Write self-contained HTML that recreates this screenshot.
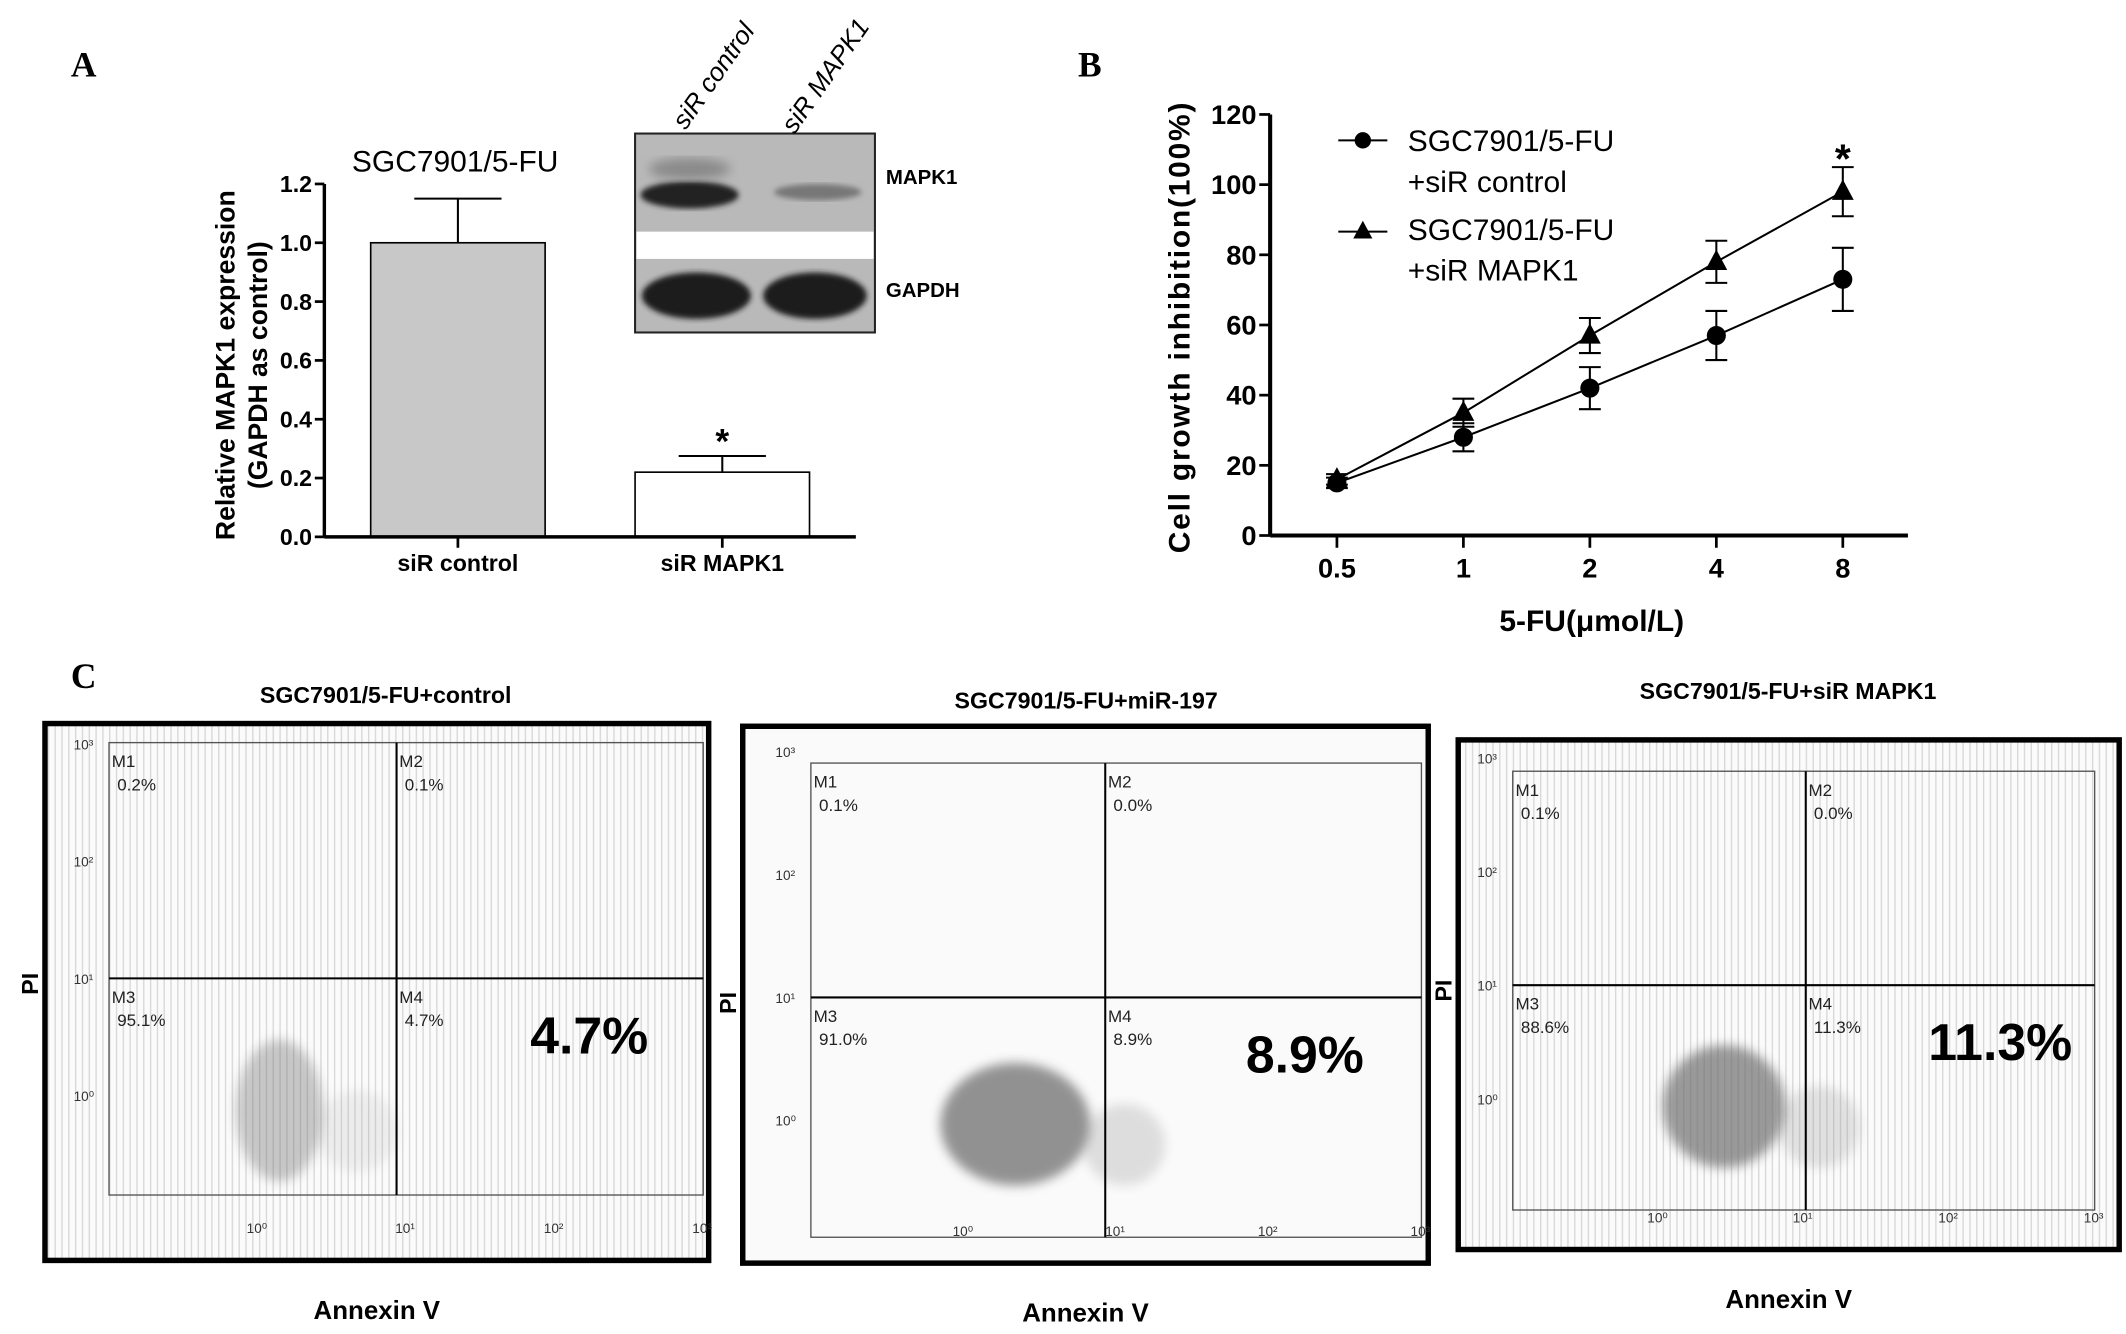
<!DOCTYPE html>
<html><head><meta charset="utf-8">
<style>
html,body{margin:0;padding:0;background:#fff;}
svg{display:block;}
text{font-family:"Liberation Sans",Arial,sans-serif;}
.cond{font-family:"Liberation Sans Narrow","Liberation Sans",sans-serif;font-weight:bold;}
.serif{font-family:"Liberation Serif",serif;font-weight:bold;}
</style></head>
<body>
<svg id="fig" width="2126" height="1334" viewBox="0 0 1560 979" preserveAspectRatio="none" xmlns="http://www.w3.org/2000/svg">
<defs>
<pattern id="stripes" width="5" height="10" patternUnits="userSpaceOnUse">
<rect width="5" height="10" fill="#fbfbfb"/>
<rect width="1" height="10" fill="#d8d8d8"/>
</pattern>
<filter id="blur2"><feGaussianBlur stdDeviation="4"/></filter>
<filter id="blur1"><feGaussianBlur stdDeviation="2"/></filter>
</defs>

<text class="serif" x="52" y="56" font-size="26">A</text>
<text class="serif" x="791" y="56" font-size="26">B</text>
<text class="serif" x="52" y="505" font-size="26">C</text>

<g id="panelA">
<text x="334" y="126" font-size="22" text-anchor="middle">SGC7901/5-FU</text>
<g transform="translate(172,268) rotate(-90)"><text x="0" y="0" font-size="19.5" font-weight="bold" text-anchor="middle">Relative MAPK1 expression</text></g>
<g transform="translate(196,268) rotate(-90)"><text x="0" y="0" font-size="19.5" font-weight="bold" text-anchor="middle">(GAPDH as control)</text></g>
</g>

<g>
<rect x="466" y="98" width="176" height="146" fill="#b9b9b9" stroke="#222" stroke-width="1.5"/>
<rect x="467" y="170" width="174" height="20" fill="#fff"/>
<ellipse cx="506" cy="143" rx="36" ry="10" fill="#222" filter="url(#blur1)"/>
<ellipse cx="506" cy="124" rx="30" ry="8" fill="#8a8a8a" filter="url(#blur2)"/>
<ellipse cx="600" cy="141" rx="32" ry="6" fill="#777" filter="url(#blur1)"/>
<ellipse cx="511" cy="217" rx="40" ry="17" fill="#1a1a1a" filter="url(#blur1)"/>
<ellipse cx="598" cy="217" rx="38" ry="17" fill="#1a1a1a" filter="url(#blur1)"/>
<g transform="translate(503,96) rotate(-55)"><text font-size="19" font-style="italic">siR control</text></g>
<g transform="translate(583,99) rotate(-55)"><text font-size="19" font-style="italic">siR MAPK1</text></g>
<text class="cond" x="650" y="135" font-size="15">MAPK1</text>
<text class="cond" x="650" y="218" font-size="15">GAPDH</text>
</g>

<g transform="translate(873,240) rotate(-90)"><text x="0" y="0" font-size="22" font-weight="bold" text-anchor="middle" letter-spacing="1.3">Cell growth inhibition(100%)</text></g>
<text class="cond" x="1168" y="463" font-size="22" text-anchor="middle">5-FU(μmol/L)</text>
<g>
<g>
<line x1="982" y1="103" x2="1018" y2="103" stroke="#000" stroke-width="1.5"/>
<circle cx="1000" cy="103" r="6" fill="#000"/>
<text x="1033" y="111" font-size="22">SGC7901/5-FU</text>
<text x="1033" y="141" font-size="22">+siR control</text>
</g>
<g>
<line x1="982" y1="170" x2="1018" y2="170" stroke="#000" stroke-width="1.5"/>
<polygon points="1000,162 1007,175 993,175" fill="#000"/>
<text x="1033" y="176" font-size="22">SGC7901/5-FU</text>
<text x="1033" y="206" font-size="22">+siR MAPK1</text>
</g>
</g>

<g id="panelC"></g>
</svg>

<script>
// ---------- Panel A data ----------
const barCategories = ["siR control", "siR MAPK1"];
const barValues = [1.0, 0.22];
const barErrors = [0.15, 0.055];
const barSignif = [false, true];
const barTicks = [0.0, 0.2, 0.4, 0.6, 0.8, 1.0, 1.2];

// ---------- Panel B data ----------
const doseLabels = ["0.5", "1", "2", "4", "8"];
const controlValues = [15, 28, 42, 57, 73];
const controlErrors = [1.5, 4, 6, 7, 9];
const mapk1Values = [16, 35, 57, 78, 98];
const mapk1Errors = [1.5, 4, 5, 6, 7];
const lineTicks = [0, 20, 40, 60, 80, 100, 120];

// ---------- Panel C data ----------
const flowTitles = ["SGC7901/5-FU+control", "SGC7901/5-FU+miR-197", "SGC7901/5-FU+siR MAPK1"];
const flowM1 = ["0.2%", "0.1%", "0.1%"];
const flowM2 = ["0.1%", "0.0%", "0.0%"];
const flowM3 = ["95.1%", "91.0%", "88.6%"];
const flowM4 = ["4.7%", "8.9%", "11.3%"];

const NS = "http://www.w3.org/2000/svg";
const svg = document.getElementById("fig");
function mk(tag, attrs, parent) {
  const e = document.createElementNS(NS, tag);
  for (const k in attrs) e.setAttribute(k, attrs[k]);
  (parent || svg).appendChild(e);
  return e;
}

// ===== Panel A =====
(function () {
  const x0 = 238, xEnd = 628, yBase = 394, yTop = 135;
  const yA = v => yBase - v / 1.2 * (yBase - yTop);
  const centers = [336, 530], bw = 128;
  const g = document.getElementById("panelA");
  barTicks.forEach(t => {
    const y = yA(t);
    const tk = mk("line", {x1: x0 - 7, y1: y, x2: x0, y2: y, stroke: "#000", "stroke-width": 2}, g);
    
    
    const lb = mk("text", {x: x0 - 9, y: y + 6, "font-size": 17, "text-anchor": "end", class: "cond"}, g);
    lb.textContent = t.toFixed(1);
    
    
  });
  barValues.forEach((v, i) => {
    const cx = centers[i];
    const eb = mk("line", {x1: cx, y1: yA(v), x2: cx, y2: yA(v + barErrors[i]), stroke: "#000", "stroke-width": 1.5}, g);
    
    
    const cap = mk("line", {x1: cx - 32, y1: yA(v + barErrors[i]), x2: cx + 32, y2: yA(v + barErrors[i]), stroke: "#000", "stroke-width": 1.5}, g);
    
    
    const r = mk("rect", {x: cx - bw / 2, y: yA(v), width: bw, height: yBase - yA(v), fill: i === 0 ? "#c8c8c8" : "#fff", stroke: "#000", "stroke-width": 1.2}, g);
    
    
    const tk = mk("line", {x1: cx, y1: yBase, x2: cx, y2: yBase + 8, stroke: "#000", "stroke-width": 2}, g);
    
    
    const lb = mk("text", {x: cx, y: yBase + 25, "font-size": 17, "text-anchor": "middle", class: "cond"}, g);
    lb.textContent = barCategories[i];
    
    
    if (barSignif[i]) {
      const s = mk("text", {x: cx, y: yA(v + barErrors[i]) - 2, "font-size": 26, "text-anchor": "middle", "font-weight": "bold"}, g);
      s.textContent = "*";
      
      
    }
  });
  const ax = mk("line", {x1: x0, y1: yTop, x2: x0, y2: yBase, stroke: "#000", "stroke-width": 2.5}, g);
  
  
  const xa = mk("line", {x1: x0, y1: yBase, x2: xEnd, y2: yBase, stroke: "#000", "stroke-width": 2.5}, g);
  
  
})();

// ===== Panel B =====
(function () {
  const x0 = 932, xEnd = 1400, yBase = 393, yTop = 84;
  const yB = v => yBase - v / 120 * (yBase - yTop);
  const xB = i => 981 + i * 92.8;
  lineTicks.forEach(t => {
    const y = yB(t);
    const tk = mk("line", {x1: x0 - 8, y1: y, x2: x0, y2: y, stroke: "#000", "stroke-width": 2});
    
    
    const lb = mk("text", {x: x0 - 10, y: y + 7, "font-size": 20, "text-anchor": "end", class: "cond"});
    lb.textContent = t;
    
    
  });
  doseLabels.forEach((d, i) => {
    const tk = mk("line", {x1: xB(i), y1: yBase, x2: xB(i), y2: yBase + 9, stroke: "#000", "stroke-width": 2});
    
    
    const lb = mk("text", {x: xB(i), y: yBase + 31, "font-size": 20, "text-anchor": "middle", class: "cond"});
    lb.textContent = d;
    
    
  });
  function series(vals, errs, marker, name) {
    const pts = vals.map((v, i) => xB(i) + "," + yB(v)).join(" ");
    const pl = mk("polyline", {points: pts, fill: "none", stroke: "#000", "stroke-width": 1.5});
    
    
    vals.forEach((v, i) => {
      const x = xB(i);
      const eb = mk("path", {d: `M${x},${yB(v - errs[i])}V${yB(v + errs[i])}M${x - 8},${yB(v - errs[i])}H${x + 8}M${x - 8},${yB(v + errs[i])}H${x + 8}`, stroke: "#000", "stroke-width": 1.5, fill: "none"});
      
      
      let m;
      if (marker === "circle") {
        m = mk("circle", {cx: x, cy: yB(v), r: 7, fill: "#000"});
      } else {
        const y = yB(v);
        m = mk("polygon", {points: `${x},${y - 9} ${x + 8},${y + 6} ${x - 8},${y + 6}`, fill: "#000"});
      }
      
      
    });
  }
  series(controlValues, controlErrors, "circle", "control");
  series(mapk1Values, mapk1Errors, "triangle", "mapk1");
  const last = mapk1Values.length - 1;
  const s = mk("text", {x: xB(last), y: yB(mapk1Values[last] + mapk1Errors[last]) + 4, "font-size": 30, "text-anchor": "middle", "font-weight": "bold"});
  s.textContent = "*";
  
  
  const ya = mk("line", {x1: x0, y1: yTop, x2: x0, y2: yBase, stroke: "#000", "stroke-width": 3});
  
  
  const xa = mk("line", {x1: x0, y1: yBase, x2: xEnd, y2: yBase, stroke: "#000", "stroke-width": 3});
  
  
})();

// ===== Panel C =====
(function () {
  const g = document.getElementById("panelC");
  const boxes = [
    {bx: 33, by: 531, bw: 487, bh: 394, ix: 80, iy: 545, iw: 436, ih: 332, qx: 291, qy: 718, cx: 205, cy: 815, rx: 32, ry: 52, op: 0.35, tx: 283, ty: 516},
    {bx: 545, by: 533, bw: 503, bh: 394, ix: 595, iy: 560, iw: 448, ih: 348, qx: 811, qy: 732, cx: 745, cy: 825, rx: 55, ry: 45, op: 0.7, tx: 797, ty: 520},
    {bx: 1070, by: 543, bw: 485, bh: 374, ix: 1110, iy: 566, iw: 427, ih: 322, qx: 1325, qy: 723, cx: 1265, cy: 812, rx: 45, ry: 45, op: 0.65, tx: 1312, ty: 513}
  ];
  boxes.forEach((b, i) => {
    const t = mk("text", {x: b.tx, y: b.ty, "font-size": 17, "text-anchor": "middle", class: "cond"}, g);
    t.textContent = flowTitles[i];
    
    
    const bg = mk("rect", {x: b.bx, y: b.by, width: b.bw, height: b.bh, fill: i === 1 ? "#fafafa" : "url(#stripes)", stroke: "#000", "stroke-width": 4}, g);
    
    
    const inner = mk("rect", {x: b.ix, y: b.iy, width: b.iw, height: b.ih, fill: "none", stroke: "#555", "stroke-width": 1}, g);
    
    
    const cloud = mk("ellipse", {cx: b.cx, cy: b.cy, rx: b.rx, ry: b.ry, fill: "#666", opacity: b.op, filter: "url(#blur2)"}, g);
    
    
    const tail = mk("ellipse", {cx: b.cx + b.rx + 25, cy: b.cy + 15, rx: 30, ry: 30, fill: "#888", opacity: b.op * 0.35, filter: "url(#blur2)"}, g);
    
    
    const v = mk("line", {x1: b.qx, y1: b.iy, x2: b.qx, y2: b.iy + b.ih, stroke: "#000", "stroke-width": 1.5}, g);
    
    
    const h = mk("line", {x1: b.ix, y1: b.qy, x2: b.ix + b.iw, y2: b.qy, stroke: "#000", "stroke-width": 1.5}, g);
    
    
    const q = [["M1", flowM1[i], b.ix + 2, b.iy + 18], ["M2", flowM2[i], b.qx + 2, b.iy + 18], ["M3", flowM3[i], b.ix + 2, b.qy + 18], ["M4", flowM4[i], b.qx + 2, b.qy + 18]];
    q.forEach(a => {
      const l1 = mk("text", {x: a[2], y: a[3], "font-size": 12.5, fill: "#222"}, g);
      l1.textContent = a[0];
      
      
      const l2 = mk("text", {x: a[2] + 4, y: a[3] + 17, "font-size": 12.5, fill: "#222"}, g);
      l2.textContent = a[1];
      
      
    });
    const big = mk("text", {x: b.bx + b.bw * 0.82, y: b.qy + 55, "font-size": 38, "text-anchor": "middle", class: "cond"}, g);
    big.textContent = flowM4[i];
    
    
    const dec = ["10⁰", "10¹", "10²", "10³"];
    const sc = b.ih / 332;
    dec.forEach((d, k) => {
      const xl = mk("text", {x: b.ix + b.iw * (k + 1) / 4 - 8, y: b.by + b.bh - 20, "font-size": 10, fill: "#333"}, g);
      xl.textContent = d;
      
      
      const yl = mk("text", {x: b.ix - 26, y: b.qy + (1 - k) * 86 * sc + 4, "font-size": 10, fill: "#333"}, g);
      yl.textContent = d;
      
      
    });
    const pi = mk("text", {x: 0, y: 0, "font-size": 17, "font-weight": "bold", "text-anchor": "middle", transform: `translate(${b.bx - 5},${b.qy + 4}) rotate(-90)`}, g);
    pi.textContent = "PI";
    
    
    const an = mk("text", {x: b.bx + b.bw / 2, y: b.by + b.bh + 43, "font-size": 19, "text-anchor": "middle", class: "cond"}, g);
    an.textContent = "Annexin V";
    
    
  });
})();
</script>
</body></html>
